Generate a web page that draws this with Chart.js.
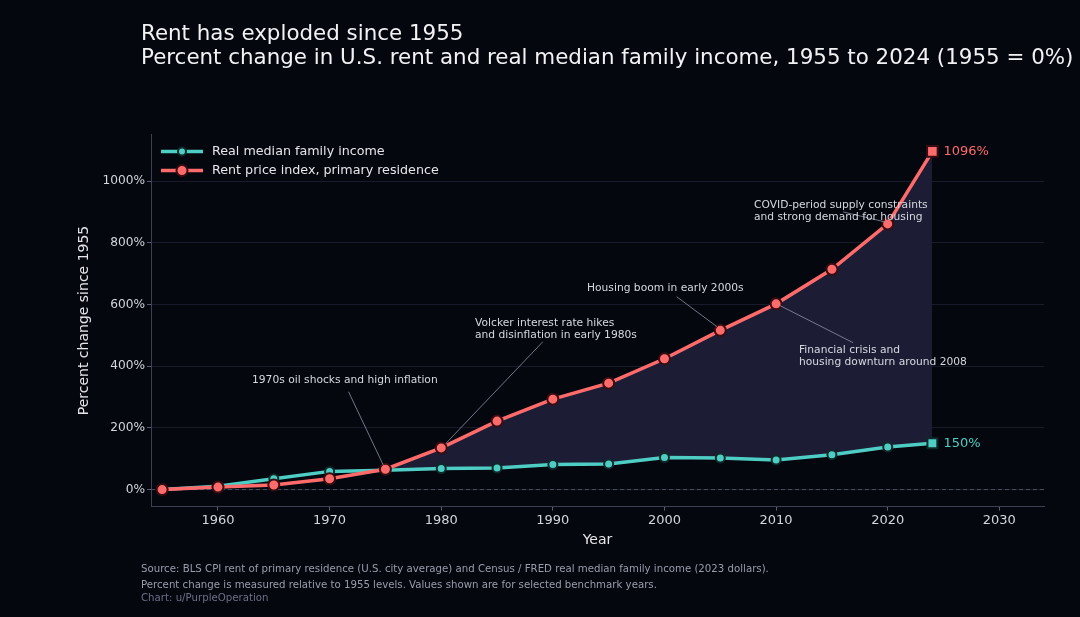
<!DOCTYPE html>
<html>
<head>
<meta charset="utf-8">
<script src="https://cdn.jsdelivr.net/npm/chart.js@4.4.1/dist/chart.umd.min.js"></script>
<style>
  html, body { margin: 0; padding: 0; background: #05070f; }
  #wrap { position: relative; width: 1080px; height: 617px; }
  canvas { display: block; }
</style>
</head>
<body>
<div id="wrap"><canvas id="c" width="1080" height="617"></canvas></div>
<script>
// ---- Data ----
const years = [1955, 1960, 1965, 1970, 1975, 1980, 1985, 1990, 1995, 2000, 2005, 2010, 2015, 2020, 2024];
const rentChange = [0, 8, 15, 35, 66, 135, 222, 293, 345, 424, 516, 602, 714, 861, 1096];
const incomeChange = [0, 11, 35, 59, 63, 68, 70, 81, 83, 104, 102, 96, 113, 138, 150];
const yTicks = [0, 200, 400, 600, 800, 1000];
const xTicks = [1960, 1970, 1980, 1990, 2000, 2010, 2020, 2030];

const titleLines = [
  "Rent has exploded since 1955",
  "Percent change in U.S. rent and real median family income, 1955 to 2024 (1955 = 0%)"
];
const footerLines = [
  "Source: BLS CPI rent of primary residence (U.S. city average) and Census / FRED real median family income (2023 dollars).",
  "Percent change is measured relative to 1955 levels. Values shown are for selected benchmark years.",
  "Chart: u/PurpleOperation"
];
const seriesNames = ["Real median family income", "Rent price index, primary residence"];

// annotations: text anchor (year, pct), connector from -> to (year, pct)
const annotations = [
  { lines: ["1970s oil shocks and high inflation"], at: [1963.05, 353], from: [1971.7, 317], to: [1974.8, 80] },
  { lines: ["Volcker interest rate hikes", "and disinflation in early 1980s"], at: [1983.03, 540], from: [1989.1, 479], to: [1980.4, 149] },
  { lines: ["Housing boom in early 2000s"], at: [1993.06, 654], from: [2001.1, 625], to: [2004.7, 528] },
  { lines: ["Financial crisis and", "housing downturn around 2008"], at: [2012.05, 453], from: [2016.9, 476], to: [2010.2, 599] },
  { lines: ["COVID-period supply constraints", "and strong demand for housing"], at: [2008.02, 922], from: [2016.0, 900], to: [2019.8, 867] }
];

// ---- Styles ----
const BG = '#05070f';
const TEAL = '#4ecdc4';
const RED = '#ff6b6b';
const FONT = "'DejaVu Sans', 'Liberation Sans', sans-serif";
const lastIdx = years.length - 1;

const bgPlugin = {
  id: 'bg',
  beforeDraw(chart) {
    const ctx = chart.ctx;
    ctx.save();
    ctx.fillStyle = BG;
    ctx.fillRect(0, 0, chart.width, chart.height);
    ctx.restore();
  },
  beforeDatasetsDraw(chart) {
    const ctx = chart.ctx;
    const y = chart.scales.y.getPixelForValue(0);
    const a = chart.chartArea;
    ctx.save();
    ctx.strokeStyle = '#4a4f60';
    ctx.lineWidth = 1;
    ctx.setLineDash([4, 3]);
    ctx.beginPath();
    ctx.moveTo(a.left, y);
    ctx.lineTo(a.right, y);
    ctx.stroke();
    ctx.restore();
  }
};

const decorPlugin = {
  id: 'decor',
  afterDraw(chart) {
    const ctx = chart.ctx;
    const xs = chart.scales.x, ys = chart.scales.y;
    const a = chart.chartArea;
    ctx.save();
    // titles
    ctx.fillStyle = '#f2f2f5';
    ctx.font = `21.4px ${FONT}`;
    ctx.textBaseline = 'middle';
    ctx.textAlign = 'left';
    titleLines.forEach((t, i) => ctx.fillText(t, 141, 34 + i * 24));

    // annotations
    annotations.forEach(an => {
      ctx.strokeStyle = '#8d92a3';
      ctx.lineWidth = 0.8;
      ctx.setLineDash([]);
      ctx.beginPath();
      ctx.moveTo(xs.getPixelForValue(an.from[0]), ys.getPixelForValue(an.from[1]));
      ctx.lineTo(xs.getPixelForValue(an.to[0]), ys.getPixelForValue(an.to[1]));
      ctx.stroke();
      ctx.fillStyle = '#d6d8e0';
      ctx.font = `10.7px ${FONT}`;
      const x0 = xs.getPixelForValue(an.at[0]);
      const y0 = ys.getPixelForValue(an.at[1]);
      an.lines.forEach((l, i) => ctx.fillText(l, x0, y0 + i * 12));
    });

    // end labels
    ctx.font = `13px ${FONT}`;
    const xe = xs.getPixelForValue(years[lastIdx]) + 11;
    ctx.fillStyle = RED;
    ctx.fillText(rentChange[lastIdx] + '%', xe, ys.getPixelForValue(rentChange[lastIdx]));
    ctx.fillStyle = TEAL;
    ctx.fillText(incomeChange[lastIdx] + '%', xe, ys.getPixelForValue(incomeChange[lastIdx]));

    // legend
    const legendItems = [
      { name: seriesNames[0], color: TEAL, edge: '#0d2a2a', r: 4 },
      { name: seriesNames[1], color: RED, edge: '#3a0d12', r: 5.5 }
    ];
    legendItems.forEach((it, i) => {
      const ly = a.top + 17 + i * 19;
      const lx = a.left + 10;
      ctx.strokeStyle = it.color;
      ctx.lineWidth = 3.5;
      ctx.beginPath();
      ctx.moveTo(lx, ly);
      ctx.lineTo(lx + 42, ly);
      ctx.stroke();
      ctx.beginPath();
      ctx.arc(lx + 21, ly, it.r, 0, Math.PI * 2);
      ctx.fillStyle = it.color;
      ctx.fill();
      ctx.lineWidth = 2;
      ctx.strokeStyle = it.edge;
      ctx.stroke();
      ctx.fillStyle = '#e6e6ea';
      ctx.font = `12.7px ${FONT}`;
      ctx.fillText(it.name, lx + 51, ly);
    });

    // footer
    ctx.font = `10.2px ${FONT}`;
    ctx.fillStyle = '#9a9cab';
    ctx.fillText(footerLines[0], 141, 569);
    ctx.fillText(footerLines[1], 141, 585);
    ctx.fillStyle = '#6c6f85';
    ctx.fillText(footerLines[2], 141, 598);
    ctx.restore();
  }
};

const ptStyle = c => c.dataIndex === lastIdx ? 'rect' : 'circle';

new Chart(document.getElementById('c'), {
  type: 'line',
  data: {
    datasets: [
      {
        label: seriesNames[1],
        data: years.map((y, i) => ({ x: y, y: rentChange[i] })),
        borderColor: RED,
        backgroundColor: RED,
        borderWidth: 3.5,
        pointRadius: c => c.dataIndex === lastIdx ? 7.5 : 5.5,
        pointHoverRadius: c => c.dataIndex === lastIdx ? 7.5 : 5.5,
        pointBorderWidth: 2,
        pointBorderColor: '#3a0d12',
        pointBackgroundColor: RED,
        pointStyle: ptStyle,
        tension: 0,
        fill: { target: 1, above: '#1c1d35', below: 'rgba(0,0,0,0)' }
      },
      {
        label: seriesNames[0],
        data: years.map((y, i) => ({ x: y, y: incomeChange[i] })),
        borderColor: TEAL,
        backgroundColor: TEAL,
        borderWidth: 3.5,
        pointRadius: c => c.dataIndex === lastIdx ? 7 : 4.5,
        pointHoverRadius: c => c.dataIndex === lastIdx ? 7 : 4.5,
        pointBorderWidth: 2,
        pointBorderColor: '#0d2a2a',
        pointBackgroundColor: TEAL,
        pointStyle: ptStyle,
        tension: 0,
        fill: false
      }
    ]
  },
  options: {
    responsive: false,
    animation: false,
    devicePixelRatio: 1,
    layout: { padding: { left: 72, top: 134.5, right: 36, bottom: 64.5 } },
    plugins: {
      legend: { display: false },
      title: { display: false },
      tooltip: { enabled: false },
      filler: { drawTime: 'beforeDatasetsDraw' }
    },
    scales: {
      x: {
        type: 'linear',
        min: 1954,
        max: 2034,
        afterFit(s) { s.height = 46; },
        afterBuildTicks(s) { s.ticks = xTicks.map(v => ({ value: v })); },
        ticks: {
          color: '#d4d6de',
          font: { family: FONT, size: 13 },
          padding: 2,
          callback: v => String(v)
        },
        grid: { drawOnChartArea: false, drawTicks: true, tickLength: 4, tickColor: '#5a5f70', tickWidth: 1 },
        border: { color: '#3b4052', width: 1 },
        title: { display: true, text: 'Year', color: '#e6e6ea', font: { family: FONT, size: 14 }, padding: { top: 4, bottom: 4 } }
      },
      y: {
        type: 'linear',
        min: -54.8,
        max: 1150.8,
        afterFit(s) { s.width = 79; },
        afterBuildTicks(s) { s.ticks = yTicks.map(v => ({ value: v })); },
        ticks: {
          color: '#d4d6de',
          font: { family: FONT, size: 12.2 },
          padding: 2,
          callback: v => v + '%'
        },
        grid: { color: '#171b2a', lineWidth: 1, drawTicks: true, tickLength: 4, tickColor: '#5a5f70' },
        border: { color: '#3b4052', width: 1 },
        title: { display: true, text: 'Percent change since 1955', color: '#e6e6ea', font: { family: FONT, size: 14 }, padding: { top: 4, bottom: 4 } }
      }
    }
  },
  plugins: [bgPlugin, decorPlugin]
});
</script>
</body>
</html>
